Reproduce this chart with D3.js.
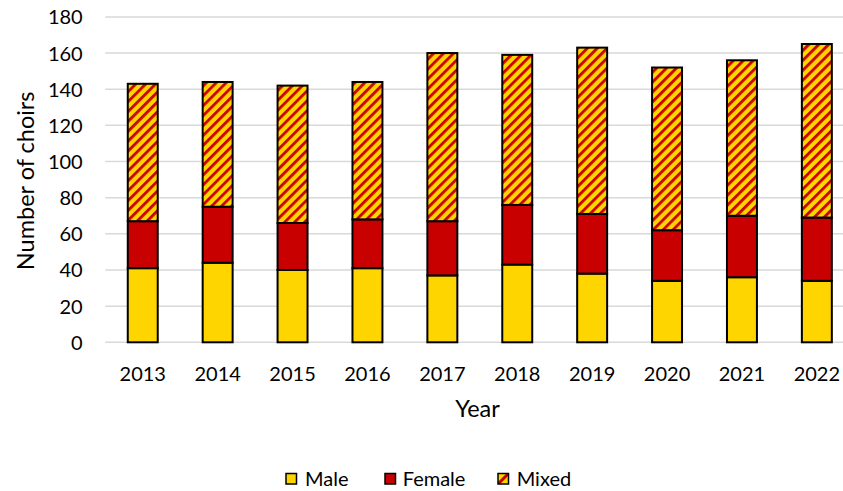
<!DOCTYPE html>
<html><head><meta charset="utf-8">
<script src="https://cdn.jsdelivr.net/npm/d3@7"></script>
<style>body{margin:0;background:#fff}svg{display:block;font-family:Lato,"Open Sans",sans-serif}</style>
</head><body><svg id="c" width="843" height="491"></svg>
<script>
const years = ["2013","2014","2015","2016","2017","2018","2019","2020","2021","2022"];
const male   = [41,44,40,41,37,43,38,34,36,34];
const female = [26,31,26,27,30,33,33,28,34,35];
const mixed  = [76,69,76,76,93,83,92,90,86,96];
const yTicks = [0,20,40,60,80,100,120,140,160,180];
const seriesNames = ["Male","Female","Mixed"];

const YELLOW = "#FFD500", RED = "#C80000";
const svg = d3.select("#c");
const defs = svg.append("defs");
const pat = defs.append("pattern").attr("id","hatch").attr("patternUnits","userSpaceOnUse")
  .attr("width",7).attr("height",10).attr("patternTransform","rotate(45)");
pat.append("rect").attr("width",7).attr("height",10).attr("fill",YELLOW);
pat.append("rect").attr("width",2.8).attr("height",10).attr("fill",RED);
const patL = defs.append("pattern").attr("id","hatchL").attr("patternUnits","userSpaceOnUse")
  .attr("width",11).attr("height",11).attr("x",498).attr("y",473).attr("patternTransform","rotate(45 503.5 478.5)");
patL.append("rect").attr("width",11).attr("height",11).attr("fill",YELLOW);
patL.append("rect").attr("x",4).attr("width",3).attr("height",11).attr("fill",RED);

const fills = [YELLOW, RED, "url(#hatch)"];
const x = d3.scaleBand().domain(years).range([105.3,854.3]).paddingInner(0.6).paddingOuter(0.3);
const y = d3.scaleLinear().domain([0,180]).range([342.3,16.9]);

// gridlines
svg.append("g").selectAll("line").data(yTicks).join("line")
  .attr("x1",105.3).attr("x2",860).attr("y1",d=>y(d)).attr("y2",d=>y(d))
  .attr("stroke","#d9d9d9").attr("stroke-width",1.5);

// y axis labels
const yAxis = d3.axisLeft(y).tickValues(yTicks).tickSize(0).tickPadding(0);
const gy = svg.append("g").attr("transform","translate(82.7,0)").call(yAxis);
gy.select(".domain").remove();
gy.selectAll("text").attr("font-size",20).attr("fill","#000").attr("font-family","Lato").attr("dy","0.35em");

// x axis labels
const xAxis = d3.axisBottom(x).tickSize(0).tickPadding(0);
const gx = svg.append("g").attr("transform","translate(0,381)").call(xAxis);
gx.select(".domain").remove();
gx.selectAll("text").attr("font-size",20).attr("fill","#000").attr("font-family","Lato").attr("dy","0");

// stacked bars
const rows = years.map((yr,i)=>({year:yr, Male:male[i], Female:female[i], Mixed:mixed[i]}));
const stack = d3.stack().keys(seriesNames)(rows);
svg.append("g").selectAll("g").data(stack).join("g")
  .attr("fill",(d,i)=>fills[i])
  .selectAll("rect").data(d=>d).join("rect")
  .attr("x",d=>x(d.data.year)).attr("width",x.bandwidth())
  .attr("y",d=>y(d[1])).attr("height",d=>y(d[0])-y(d[1]))
  .attr("stroke","#000").attr("stroke-width",2);

// axis titles
svg.append("text").attr("transform","translate(34,180.8) rotate(-90)").attr("text-anchor","middle")
  .attr("font-size",23.5).attr("fill","#000").text("Number of choirs");
svg.append("text").attr("x",477.5).attr("y",417.3).attr("text-anchor","middle")
  .attr("font-size",23.5).attr("fill","#000").text("Year");

// legend
const legX = [286,385,498], legTX = [305,402.7,516.7];
const legFills = [YELLOW, RED, "url(#hatchL)"];
const lg = svg.append("g").selectAll("g").data(seriesNames).join("g");
lg.append("rect").attr("x",(d,i)=>legX[i]).attr("y",473.5).attr("width",10.5).attr("height",10.5)
  .attr("fill",(d,i)=>legFills[i]).attr("stroke","#000").attr("stroke-width",1.5);
lg.append("text").attr("x",(d,i)=>legTX[i]).attr("y",486).attr("font-size",20).attr("fill","#000").text(d=>d);
</script></body></html>
